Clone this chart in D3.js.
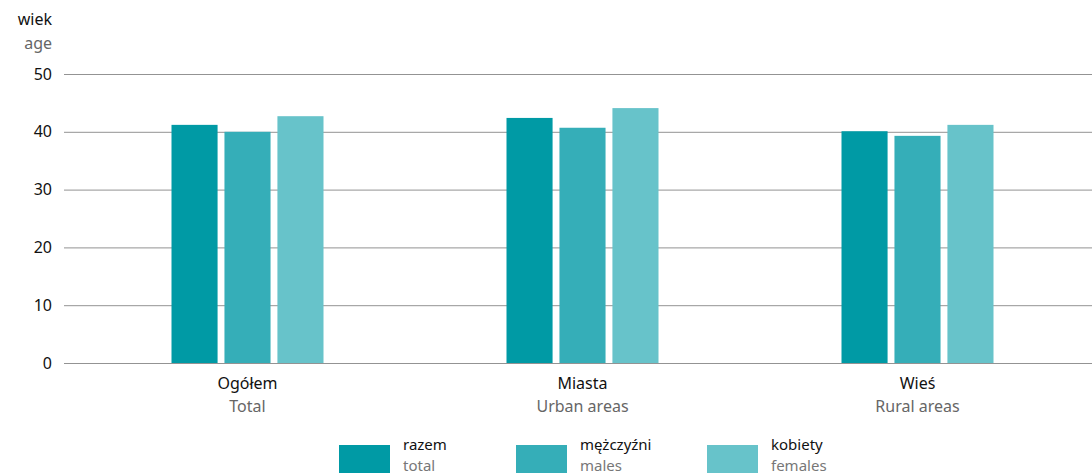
<!DOCTYPE html>
<html>
<head>
<meta charset="utf-8">
<script src="https://cdn.jsdelivr.net/npm/d3@7"></script>
<style>
  body { margin: 0; background: #fff; }
  svg text { font-family: "Noto Sans", "Open Sans", sans-serif; }
</style>
</head>
<body>
<div id="chart"></div>
<script>
// data
var categoriesPl = ["Ogółem", "Miasta", "Wieś"];
var categoriesEn = ["Total", "Urban areas", "Rural areas"];
var seriesPl = ["razem", "mężczyźni", "kobiety"];
var seriesEn = ["total", "males", "females"];
var totalVals = [41.2, 42.4, 40.1];
var malesVals = [40.0, 40.7, 39.3];
var femalesVals = [42.7, 44.1, 41.2];
var yTicks = [0, 10, 20, 30, 40, 50];

var colors = ["#009aa5", "#35aeb8", "#67c3ca"];
var width = 1092, height = 476;
var allVals = [totalVals, malesVals, femalesVals];

var svg = d3.select("#chart")
  .append("svg")
  .attr("width", width)
  .attr("height", height);

// scales
var yScale = d3.scaleLinear()
  .domain([0, 50])
  .range([363, 74]);

var xScale = d3.scaleBand()
  .domain(categoriesPl)
  .range([80, 1085]);

var xInner = d3.scaleBand()
  .domain(seriesPl)
  .range([-76, 76])
  .paddingInner(0.13);

// grid
var yGrid = d3.axisLeft(yScale)
  .tickValues(yTicks)
  .tickSize(-(width - 64))
  .tickFormat("");

svg.append("g")
  .attr("transform", "translate(64,0)")
  .attr("class", "grid")
  .call(yGrid)
  .call(g => g.select(".domain").remove())
  .selectAll("line")
  .style("stroke", "#939393")
  .style("stroke-width", 1);

// y labels
svg.append("g")
  .selectAll("text")
  .data(yTicks)
  .enter()
  .append("text")
  .attr("x", 52)
  .attr("y", d => yScale(d))
  .attr("dy", "0.35em")
  .attr("text-anchor", "end")
  .style("font-size", "16px")
  .style("fill", "#111")
  .text(d => d);

svg.append("text")
  .attr("x", 52).attr("y", 25)
  .attr("text-anchor", "end")
  .style("font-size", "16px")
  .style("fill", "#111")
  .text("wiek");

svg.append("text")
  .attr("x", 52).attr("y", 49)
  .attr("text-anchor", "end")
  .style("font-size", "16px")
  .style("fill", "#666")
  .text("age");

// bars
var groups = svg.append("g")
  .selectAll("g")
  .data(categoriesPl)
  .enter()
  .append("g")
  .attr("transform", d => `translate(${xScale(d) + xScale.bandwidth() / 2},0)`);

groups.selectAll("rect")
  .data((d, i) => seriesPl.map((s, j) => ({ s: s, v: allVals[j][i], c: colors[j] })))
  .enter()
  .append("rect")
  .attr("x", d => xInner(d.s))
  .attr("width", xInner.bandwidth())
  .attr("y", d => yScale(d.v))
  .attr("height", d => yScale(0) - yScale(d.v))
  .style("fill", d => d.c);

// x labels
groups.append("text")
  .attr("y", 389)
  .attr("text-anchor", "middle")
  .style("font-size", "16px")
  .style("fill", "#111")
  .text(d => d);

groups.append("text")
  .attr("y", 412)
  .attr("text-anchor", "middle")
  .style("font-size", "16px")
  .style("fill", "#666")
  .text((d, i) => categoriesEn[i]);

// legend
var legendX = [339, 516, 707];
var legend = svg.append("g")
  .selectAll("g")
  .data(seriesPl)
  .enter()
  .append("g")
  .attr("transform", (d, i) => `translate(${legendX[i]},445)`);

legend.append("rect")
  .attr("width", 51)
  .attr("height", 28)
  .style("fill", (d, i) => colors[i]);

legend.append("text")
  .attr("x", 64).attr("y", 5)
  .style("font-size", "15px")
  .style("fill", "#111")
  .text(d => d);

legend.append("text")
  .attr("x", 64).attr("y", 26)
  .style("font-size", "15px")
  .style("fill", "#777")
  .text((d, i) => seriesEn[i]);
</script>
</body>
</html>
